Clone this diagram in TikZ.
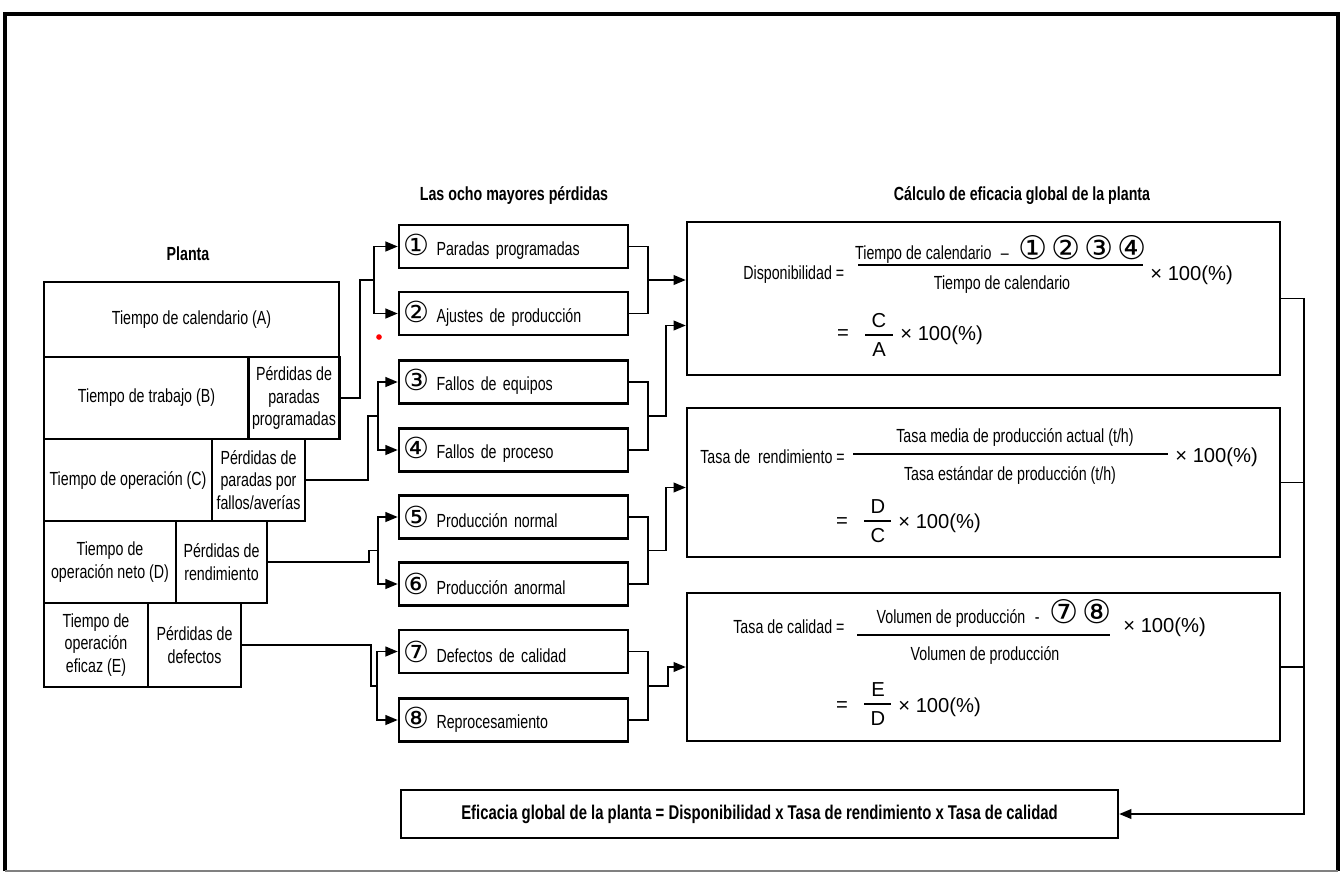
\documentclass[tikz,border=0pt]{standalone}
\usepackage{fontspec}
\setmainfont{Liberation Sans}[FakeStretch=0.75]
\newfontfamily\widefont{Liberation Sans}
\newfontfamily\circfont{DejaVu Sans}
\usetikzlibrary{arrows.meta,calc,positioning}

% circled loss numbers
\newcommand{\cn}[1]{{\circfont\fontsize{16.5}{16}\selectfont #1}}
\newcommand{\bcn}[1]{{\circfont\fontsize{18.5}{18}\selectfont #1}}

\tikzset{
  box/.style={draw, line width=1.3pt, inner sep=2pt, align=center,
    font=\fontsize{10.8}{12.8}\selectfont},
  lossbox/.style={box, line width=1.4pt, minimum width=4.58cm, minimum height=0.86cm,
    text width=4.4cm, align=left},
  calcbox/.style={draw, line width=1.4pt, minimum width=11.86cm},
  conn/.style={line width=1.1pt},
  arr/.style={conn, -{Triangle[length=7pt,width=5.5pt]}},
  bar/.style={line width=0.9pt},
  txt/.style={font=\fontsize{10.8}{12.8}\selectfont, inner sep=0pt},
  big/.style={font=\widefont\fontsize{11.5}{13}\selectfont, inner sep=0pt},
  head/.style={font=\bfseries\fontsize{10.8}{12.8}\selectfont, inner sep=0pt}
}

\begin{document}
\begin{tikzpicture}[x=0.02cm, y=-0.02cm]
  \useasboundingbox (0,0) rectangle (1343,873);
  % frame
  \draw[line width=2.4pt] (5,871) -- (5,14) -- (1338,14) -- (1338,871);
  \draw[gray, line width=1pt] (5,871) -- (1338,871);

  % headings
  \node[head] (hplanta) at (188,254) {Planta};
  \node[head] (hloss) at (514,196) {Las ocho mayores pérdidas};
  \node[head] (hcalc) at (1022,196) {Cálculo de eficacia global de la planta};

  % plant
  \node[box, minimum width=5.9cm, minimum height=1.5cm] (A) at (191.5,319.5) {Tiempo de calendario (A)};
  \node[box, minimum width=4.1cm, minimum height=1.64cm] (B) at (146.5,398) {Tiempo de trabajo (B)};
  \node[box, minimum width=1.8cm, minimum height=1.64cm] (Bp) at (294,398) {Pérdidas de\\paradas\\programadas};
  \node[box, minimum width=3.36cm, minimum height=1.64cm] (C) at (128,480) {Tiempo de operación (C)};
  \node[box, minimum width=1.86cm, minimum height=1.64cm] (Cp) at (258.5,480) {Pérdidas de\\paradas por\\fallos/averías};
  \node[box, minimum width=2.64cm, minimum height=1.64cm] (D) at (110,562) {Tiempo de\\operación neto (D)};
  \node[box, minimum width=1.82cm, minimum height=1.64cm] (Dp) at (221.5,562) {Pérdidas de\\rendimiento};
  \node[box, minimum width=2.08cm, minimum height=1.68cm] (E) at (96,645) {Tiempo de\\operación\\eficaz (E)};
  \node[box, minimum width=1.86cm, minimum height=1.68cm] (Ep) at (194.5,645) {Pérdidas de\\defectos};

  % eight losses
  \node[lossbox] (l1) at (513.5,246.5) {\cn{①}\hspace{4pt}Paradas programadas};
  \node[lossbox] (l2) at (513.5,313.5) {\cn{②}\hspace{4pt}Ajustes de producción};
  \node[lossbox] (l3) at (513.5,382) {\cn{③}\hspace{4pt}Fallos de equipos};
  \node[lossbox] (l4) at (513.5,450) {\cn{④}\hspace{4pt}Fallos de proceso};
  \node[lossbox] (l5) at (513.5,517) {\cn{⑤}\hspace{4pt}Producción normal};
  \node[lossbox] (l6) at (513.5,584) {\cn{⑥}\hspace{4pt}Producción anormal};
  \node[lossbox] (l7) at (513.5,651.5) {\cn{⑦}\hspace{4pt}Defectos de calidad};
  \node[lossbox] (l8) at (513.5,720) {\cn{⑧}\hspace{4pt}Reprocesamiento};

  % calculation boxes
  \node[calcbox, minimum height=3.06cm] (disp) at (983.5,298.5) {};
  \node[calcbox, minimum height=2.98cm] (rend) at (983.5,482.5) {};
  \node[calcbox, minimum height=2.96cm] (cal) at (983.5,667) {};
  \node[draw, line width=1.4pt, minimum width=14.34cm, minimum height=0.96cm,
    font=\bfseries\fontsize{11.3}{13}\selectfont] (oee) at (759.5,814)
    {Eficacia global de la planta = Disponibilidad x Tasa de rendimiento x Tasa de calidad};

  % disponibilidad
  \node[txt, anchor=west] (dlab) at (743,275) {Disponibilidad =};
  \node[txt] (dnum) at (1001,249) {Tiempo de calendario\enspace--\enspace\bcn{①} \bcn{②} \bcn{③} \bcn{④}};
  \draw[bar] (858,265) -- (1143,265);
  \node[txt] (dden) at (1002,285) {Tiempo de calendario};
  \node[big, anchor=west] (dpct) at (1150,275) {× 100(\%)};
  \node[big] (deq) at (843,335) {=};
  \node[big] (dC) at (879,321) {C};
  \draw[bar] (865,335) -- (893,335);
  \node[big] (dA) at (879,350) {A};
  \node[big, anchor=west] (dpct2) at (900,335) {× 100(\%)};

  % rendimiento
  \node[txt, anchor=west] (rlab) at (700,457) {Tasa de\ \ rendimiento =};
  \node[txt] (rnum) at (1015,437) {Tasa media de producción actual (t/h)};
  \draw[bar] (853,454) -- (1168,454);
  \node[txt] (rden) at (1010,475) {Tasa estándar de producción (t/h)};
  \node[big, anchor=west] (rpct) at (1175,457) {× 100(\%)};
  \node[big] (req) at (842,523) {=};
  \node[big] (rD) at (878,507) {D};
  \draw[bar] (864,521) -- (891,521);
  \node[big] (rC) at (878,536) {C};
  \node[big, anchor=west] (rpct2) at (898,523) {× 100(\%)};

  % calidad
  \node[txt, anchor=west] (clab) at (733,627) {Tasa de calidad =};
  \node[txt] (cnum) at (994,613) {Volumen\ de\ producción\enspace-\enspace\bcn{⑦} \bcn{⑧}};
  \draw[bar] (857,635) -- (1110,635);
  \node[txt] (cden) at (985,655) {Volumen\ de\ producción};
  \node[big, anchor=west] (cpct) at (1123,627) {× 100(\%)};
  \node[big] (ceq) at (842,707) {=};
  \node[big] (cE) at (878,690) {E};
  \draw[bar] (864,704) -- (891,704);
  \node[big] (cD) at (878,719) {D};
  \node[big, anchor=west] (cpct2) at (898,707) {× 100(\%)};

  % plant -> losses
  \coordinate (j12) at ($(l1.west)!0.5!(l2.west)+(-24,0)$);
  \coordinate (j34) at ($(l3.west)!0.5!(l4.west)+(-20,0)$);
  \coordinate (j56) at ($(l5.west)!0.5!(l6.west)+(-20,0)$);
  \coordinate (j78) at ($(l7.west)!0.5!(l8.west)+(-21,0)$);
  \draw[conn] (Bp.east) -- ++(19,0) |- (j12);
  \draw[conn] (Cp.east) -- ++(62,0) |- (j34);
  \draw[conn] (Dp.east) -- ++(101,0) |- (j56);
  \draw[conn] (Ep.east) -- ++(129,0) |- (j78);
  \draw[arr] (j12) |- (l1.west);
  \draw[arr] (j12) |- (l2.west);
  \draw[arr] (j34) |- (l3.west);
  \draw[arr] (j34) |- (l4.west);
  \draw[arr] (j56) |- (l5.west);
  \draw[arr] (j56) |- (l6.west);
  \draw[arr] (j78) |- (l7.west);
  \draw[arr] (j78) |- (l8.west);

  % losses -> calculation
  \draw[conn] (l1.east) -- ++(19,0) |- (l2.east);
  \draw[conn] (l3.east) -- ++(19,0) |- (l4.east);
  \draw[conn] (l5.east) -- ++(19,0) |- (l6.east);
  \draw[conn] (l7.east) -- ++(19,0) |- (l8.east);
  \coordinate (m12) at ($(l1.east)!0.5!(l2.east)+(19,0)$);
  \coordinate (m34) at ($(l3.east)!0.5!(l4.east)+(19,0)$);
  \coordinate (m56) at ($(l5.east)!0.5!(l6.east)+(19,0)$);
  \coordinate (m78) at ($(l7.east)!0.5!(l8.east)+(19,0)$);
  \draw[arr] (m12) -- (m12 -| disp.west);
  \draw[arr] (m34) -- ++(18,0) |- ($(disp.west)+(0,27)$);
  \draw[arr] (m56) -- ++(18,0) |- ($(rend.west)+(0,5)$);
  \draw[arr] (m78) -- ++(20,0) |- (cal.west);

  % calculation -> overall
  \draw[arr] (disp.east) -- ++(23,0) |- (oee.east);
  \draw[conn] (rend.east) -- ++(23,0);
  \draw[conn] (cal.east) -- ++(23,0);

  \fill[red] (379,337) circle (1.6pt);
\end{tikzpicture}
\end{document}
